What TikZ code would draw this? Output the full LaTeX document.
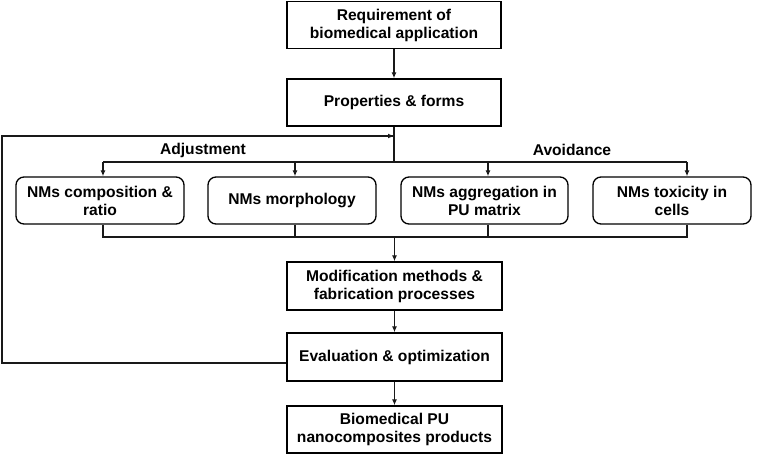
\documentclass[tikz,border=0pt]{standalone}
\usepackage{fontspec}
\setmainfont{Liberation Sans}
\usetikzlibrary{arrows.meta,calc}
\begin{document}
\begin{tikzpicture}[x=1pt,y=-1pt,
  box/.style={draw=black,line width=1.3pt,minimum height=47pt,inner sep=0pt,align=center,
    font=\fontsize{15.6}{18}\selectfont\bfseries},
  rbox/.style={box,rounded corners=8pt},
  conn/.style={draw=black!90,line width=1.2pt},
  arr/.style={conn,-{Latex[length=6pt,width=5pt]}},
  lbl/.style={font=\fontsize{15.6}{18}\selectfont\bfseries,inner sep=0pt}]
\useasboundingbox (0,0) rectangle (764,455);
\node[box,minimum width=214pt] (req) at (394,25) {Requirement of\\biomedical application};
\node[box,minimum width=214pt] (prop) at (394,102.5) {Properties \& forms};
\node[rbox,minimum width=168pt] (b1) at (100,200.5) {NMs composition \&\\ratio};
\node[rbox,minimum width=168pt] (b2) at (292,200.5) {NMs morphology};
\node[rbox,minimum width=167pt] (b3) at (484.5,200.5) {NMs aggregation in\\PU matrix};
\node[rbox,minimum width=158pt] (b4) at (672,200.5) {NMs toxicity in\\cells};
\node[box,minimum width=215pt,minimum height=48pt] (mod) at (394.5,286) {Modification methods \&\\fabrication processes};
\node[box,minimum width=215pt,minimum height=48pt] (eval) at (394.5,357) {Evaluation \& optimization};
\node[box,minimum width=215pt] (bio) at (394.5,429.5) {Biomedical PU\\nanocomposites products};
\node[lbl] (adj) at (203,150) {Adjustment};
\node[lbl] (avo) at (572,150) {Avoidance};
% top
\draw[arr] (req) -- (prop);
\coordinate (split) at (394,162);
\coordinate (t1) at (103,162);
\coordinate (t2) at (295,162);
\coordinate (t3) at (488,162);
\coordinate (t4) at (687,162);
\draw[conn] (prop.south) -- (split);
\draw[conn] (t1) -- (t4);
\draw[arr] (t1) -- (t1 |- b1.north);
\draw[arr] (t2) -- (t2 |- b2.north);
\draw[arr] (t3) -- (t3 |- b3.north);
\draw[arr] (t4) -- (t4 |- b4.north);
% bottom merge
\coordinate (m1) at (103,237);
\coordinate (m2) at (295,237);
\coordinate (m3) at (488,237);
\coordinate (m4) at (687,237);
\coordinate (join) at (394.5,237);
\draw[conn] (m1 |- b1.south) -- (m1) -- (m4) -- (m4 |- b4.south);
\draw[conn] (m2 |- b2.south) -- (m2);
\draw[conn] (m3 |- b3.south) -- (m3);
\draw[arr] (join) -- (mod.north);
\draw[arr] (mod) -- (eval);
\draw[arr] (eval) -- (bio);
% feedback
\coordinate (fbE) at (eval.west |- 0,363);
\coordinate (fbL) at (2,363);
\coordinate (fbT) at (2,136);
\coordinate (fbH) at (394,136);
\draw[conn] (fbE) -- (fbL) -- (fbT) -- (fbH);
\draw[arr] ($(fbH)+(-10,0)$) -- (fbH);
\end{tikzpicture}
\end{document}
